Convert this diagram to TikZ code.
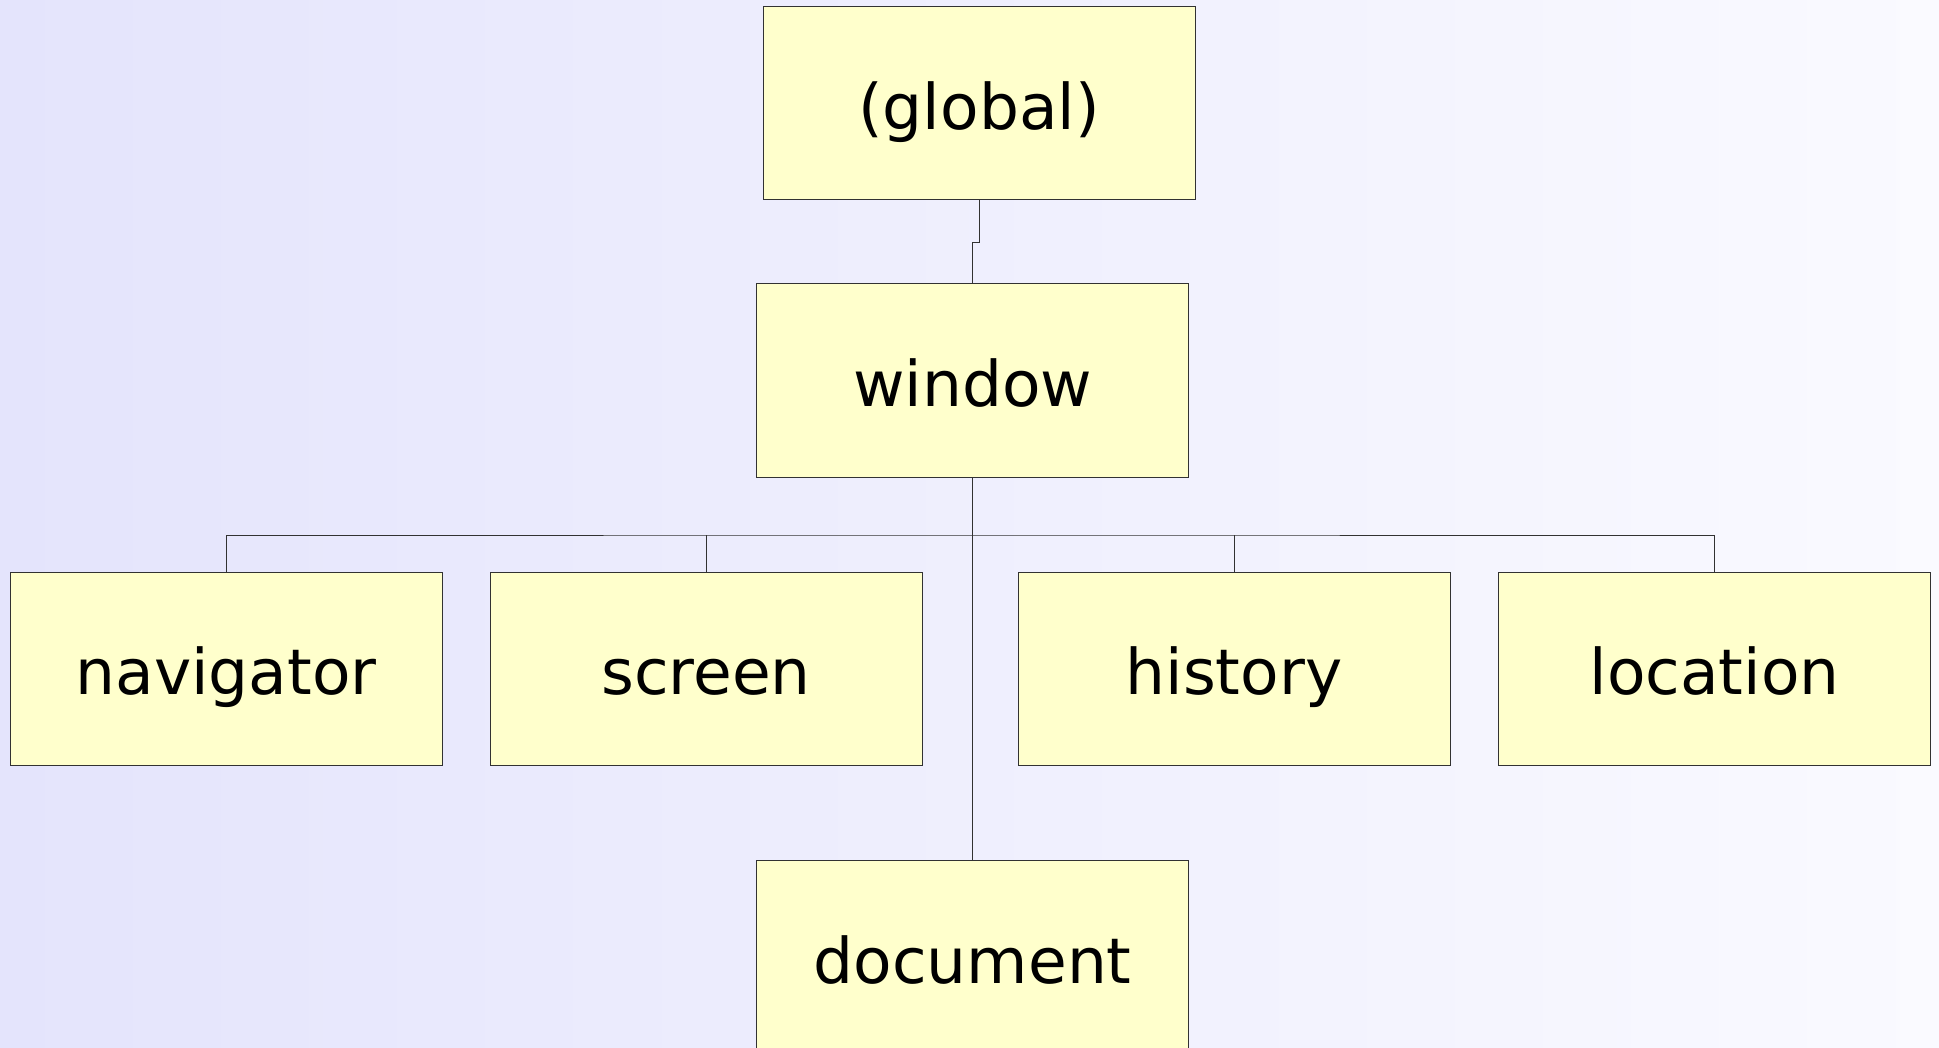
\documentclass[tikz,border=0pt]{standalone}
\usepackage{fontspec}
\setmainfont{DejaVu Sans}
\definecolor{boxfill}{RGB}{255,255,204}
\definecolor{bgleft}{RGB}{228,228,252}
\definecolor{bgright}{RGB}{250,250,255}
\definecolor{edge}{RGB}{50,50,50}
\begin{document}
\begin{tikzpicture}[x=1pt,y=-1pt,
  box/.style={draw=edge, line width=1pt, fill=boxfill,
    minimum width=432pt, minimum height=193pt, inner sep=0pt,
    font=\fontsize{63}{63}\selectfont, text height=57pt, text depth=5pt},
  link/.style={draw=edge, line width=1pt}]
  % page frame and background
  \useasboundingbox (0,0) rectangle (1939,1048);
  \clip (0,0) rectangle (1939,1048);
  \shade[left color=bgleft, right color=bgright] (0,0) rectangle (1939,1048);

  % object hierarchy
  \node[box] (global)    at (979,103.5)   {(global)};
  \node[box] (window)    at (972.7,380.5) {window};
  \node[box] (navigator) at (226,668.5)   {navigator};
  \node[box] (screen)    at (706,668.5)   {screen};
  \node[box] (history)   at (1234,668.5)  {history};
  \node[box] (location)  at (1714.5,668.5){location};
  \node[box] (document)  at (972.7,957)   {document};

  % connectors
  \coordinate (bus) at (972.7,535);
  \draw[link] (global.south) -- ++(0,42) -| (window.north);
  \draw[link] (window.south) -- (document.north);
  \draw[link] (navigator.north) |- (bus) -| (location.north);
  \draw[link] (screen.north) -- (screen.north |- bus);
  \draw[link] (history.north) -- (history.north |- bus);
\end{tikzpicture}
\end{document}
